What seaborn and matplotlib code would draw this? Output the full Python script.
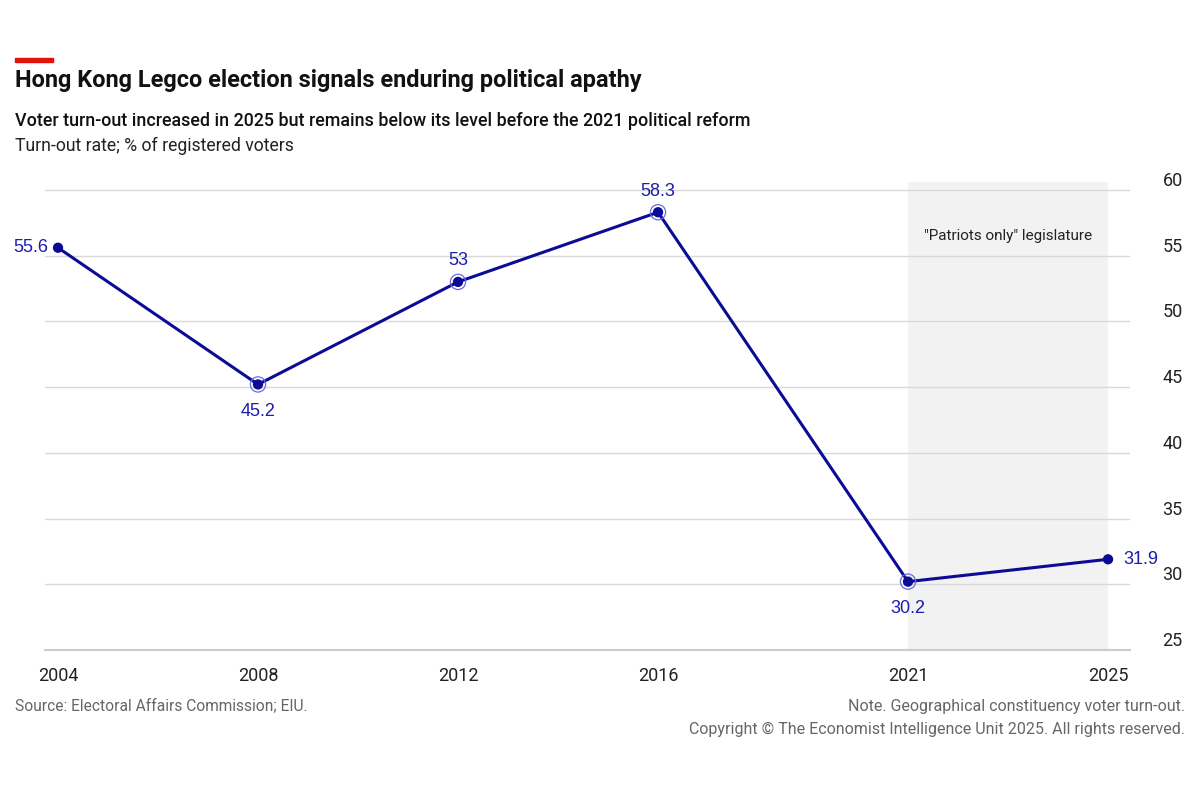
import pandas as pd
import matplotlib.pyplot as plt
import seaborn as sns

# ----- Hong Kong Legco turn-out -----

years = [2004, 2008, 2012, 2016, 2021, 2025]
turnout = [55.6, 45.2, 53.0, 58.3, 30.2, 31.9]
labels = ['55.6', '45.2', '53', '58.3', '30.2', '31.9']
ringed = [2008, 2012, 2016, 2021]
y_ticks = [25, 30, 35, 40, 45, 50, 55, 60]

df = pd.DataFrame({'year': years, 'turnout': turnout, 'label': labels})

sns.set_style('white')
cond = ['Roboto', 'DejaVu Sans']
plain = ['Liberation Sans', 'DejaVu Sans']
plt.rcParams['font.family'] = cond

navy = '#0b0b96'
lab_col = '#1c1cb0'

fig = plt.figure(figsize=(12, 8), dpi=100)
ax = fig.add_axes([0.0375, 0.1875, 0.9042, 0.585])

# shaded "patriots only" period
ax.axvspan(2021, 2025, color='#f2f2f2', zorder=0, lw=0)
ax.text(2023, 56.5, '"Patriots only" legislature', ha='center', va='center',
        fontsize=11, color='#222222')

sns.lineplot(data=df, x='year', y='turnout', color=navy, lw=2.2, ax=ax, zorder=3)
sns.scatterplot(data=df, x='year', y='turnout', color=navy, s=55, edgecolor='none',
                ax=ax, zorder=4)
sns.scatterplot(data=df[df['year'].isin(ringed)], x='year', y='turnout', s=120,
                facecolor='none', edgecolor='#6a6ae0', linewidth=0.9, ax=ax, zorder=4)

# data labels
offsets = {2004: (-7, 0, 'right', 'center'), 2008: (0, -13, 'center', 'top'),
           2012: (0, 9, 'center', 'bottom'), 2016: (0, 9, 'center', 'bottom'),
           2021: (0, -13, 'center', 'top'), 2025: (11, 0, 'left', 'center')}
for _, r in df.iterrows():
    dx, dy, ha, va = offsets[r['year']]
    ax.annotate(r['label'], (r['year'], r['turnout']), xytext=(dx, dy),
                textcoords='offset points', ha=ha, va=va, fontsize=13,
                color=lab_col, family=plain)

ax.set_xlim(2003.74, 2025.44)
ax.set_ylim(25, 60.6)
ax.set_xticks(years)
ax.set_yticks(y_ticks)
ax.yaxis.tick_right()
ax.grid(axis='y', color='#d9d9d9', lw=1)
ax.set_axisbelow(True)
for s in ['top', 'left', 'right']:
    ax.spines[s].set_visible(False)
ax.spines['bottom'].set_color('#cccccc')
ax.spines['bottom'].set_linewidth(1.5)
ax.tick_params(axis='x', length=7, width=1, color='#333333', labelsize=13,
               labelcolor='#222222', pad=5)
ax.tick_params(axis='y', length=0, labelsize=13, labelcolor='#222222', pad=38)
for t in ax.get_yticklabels():
    t.set_horizontalalignment('right')
    t.set_verticalalignment('bottom')
ax.set_xlabel('')
ax.set_ylabel('')

# titles
fig.patches.append(plt.Rectangle((15 / 1200, 1 - 62 / 800), 38 / 1200, 4 / 800,
                                 transform=fig.transFigure, color='#e3120b'))
fig.text(15 / 1200, 1 - 80 / 800, 'Hong Kong Legco election signals enduring political apathy',
         fontsize=16.9, fontweight='bold', va='center', color='#111111')
fig.text(15 / 1200, 1 - 121 / 800,
         'Voter turn-out increased in 2025 but remains below its level before the 2021 political reform',
         fontsize=12.9, fontweight='medium', va='center', color='#111111')
fig.text(15 / 1200, 1 - 146 / 800, 'Turn-out rate; % of registered voters',
         fontsize=12.7, va='center', color='#222222')

fig.text(15 / 1200, 1 - 706 / 800, 'Source: Electoral Affairs Commission; EIU.',
         fontsize=11.2, va='center', color='#666666')
fig.text(1185 / 1200, 1 - 706 / 800, 'Note. Geographical constituency voter turn-out.',
         fontsize=11.5, va='center', ha='right', color='#666666')
fig.text(1185 / 1200, 1 - 729 / 800,
         'Copyright © The Economist Intelligence Unit 2025. All rights reserved.',
         fontsize=11.5, va='center', ha='right', color='#666666')

fig.savefig('out.png', dpi=100)
